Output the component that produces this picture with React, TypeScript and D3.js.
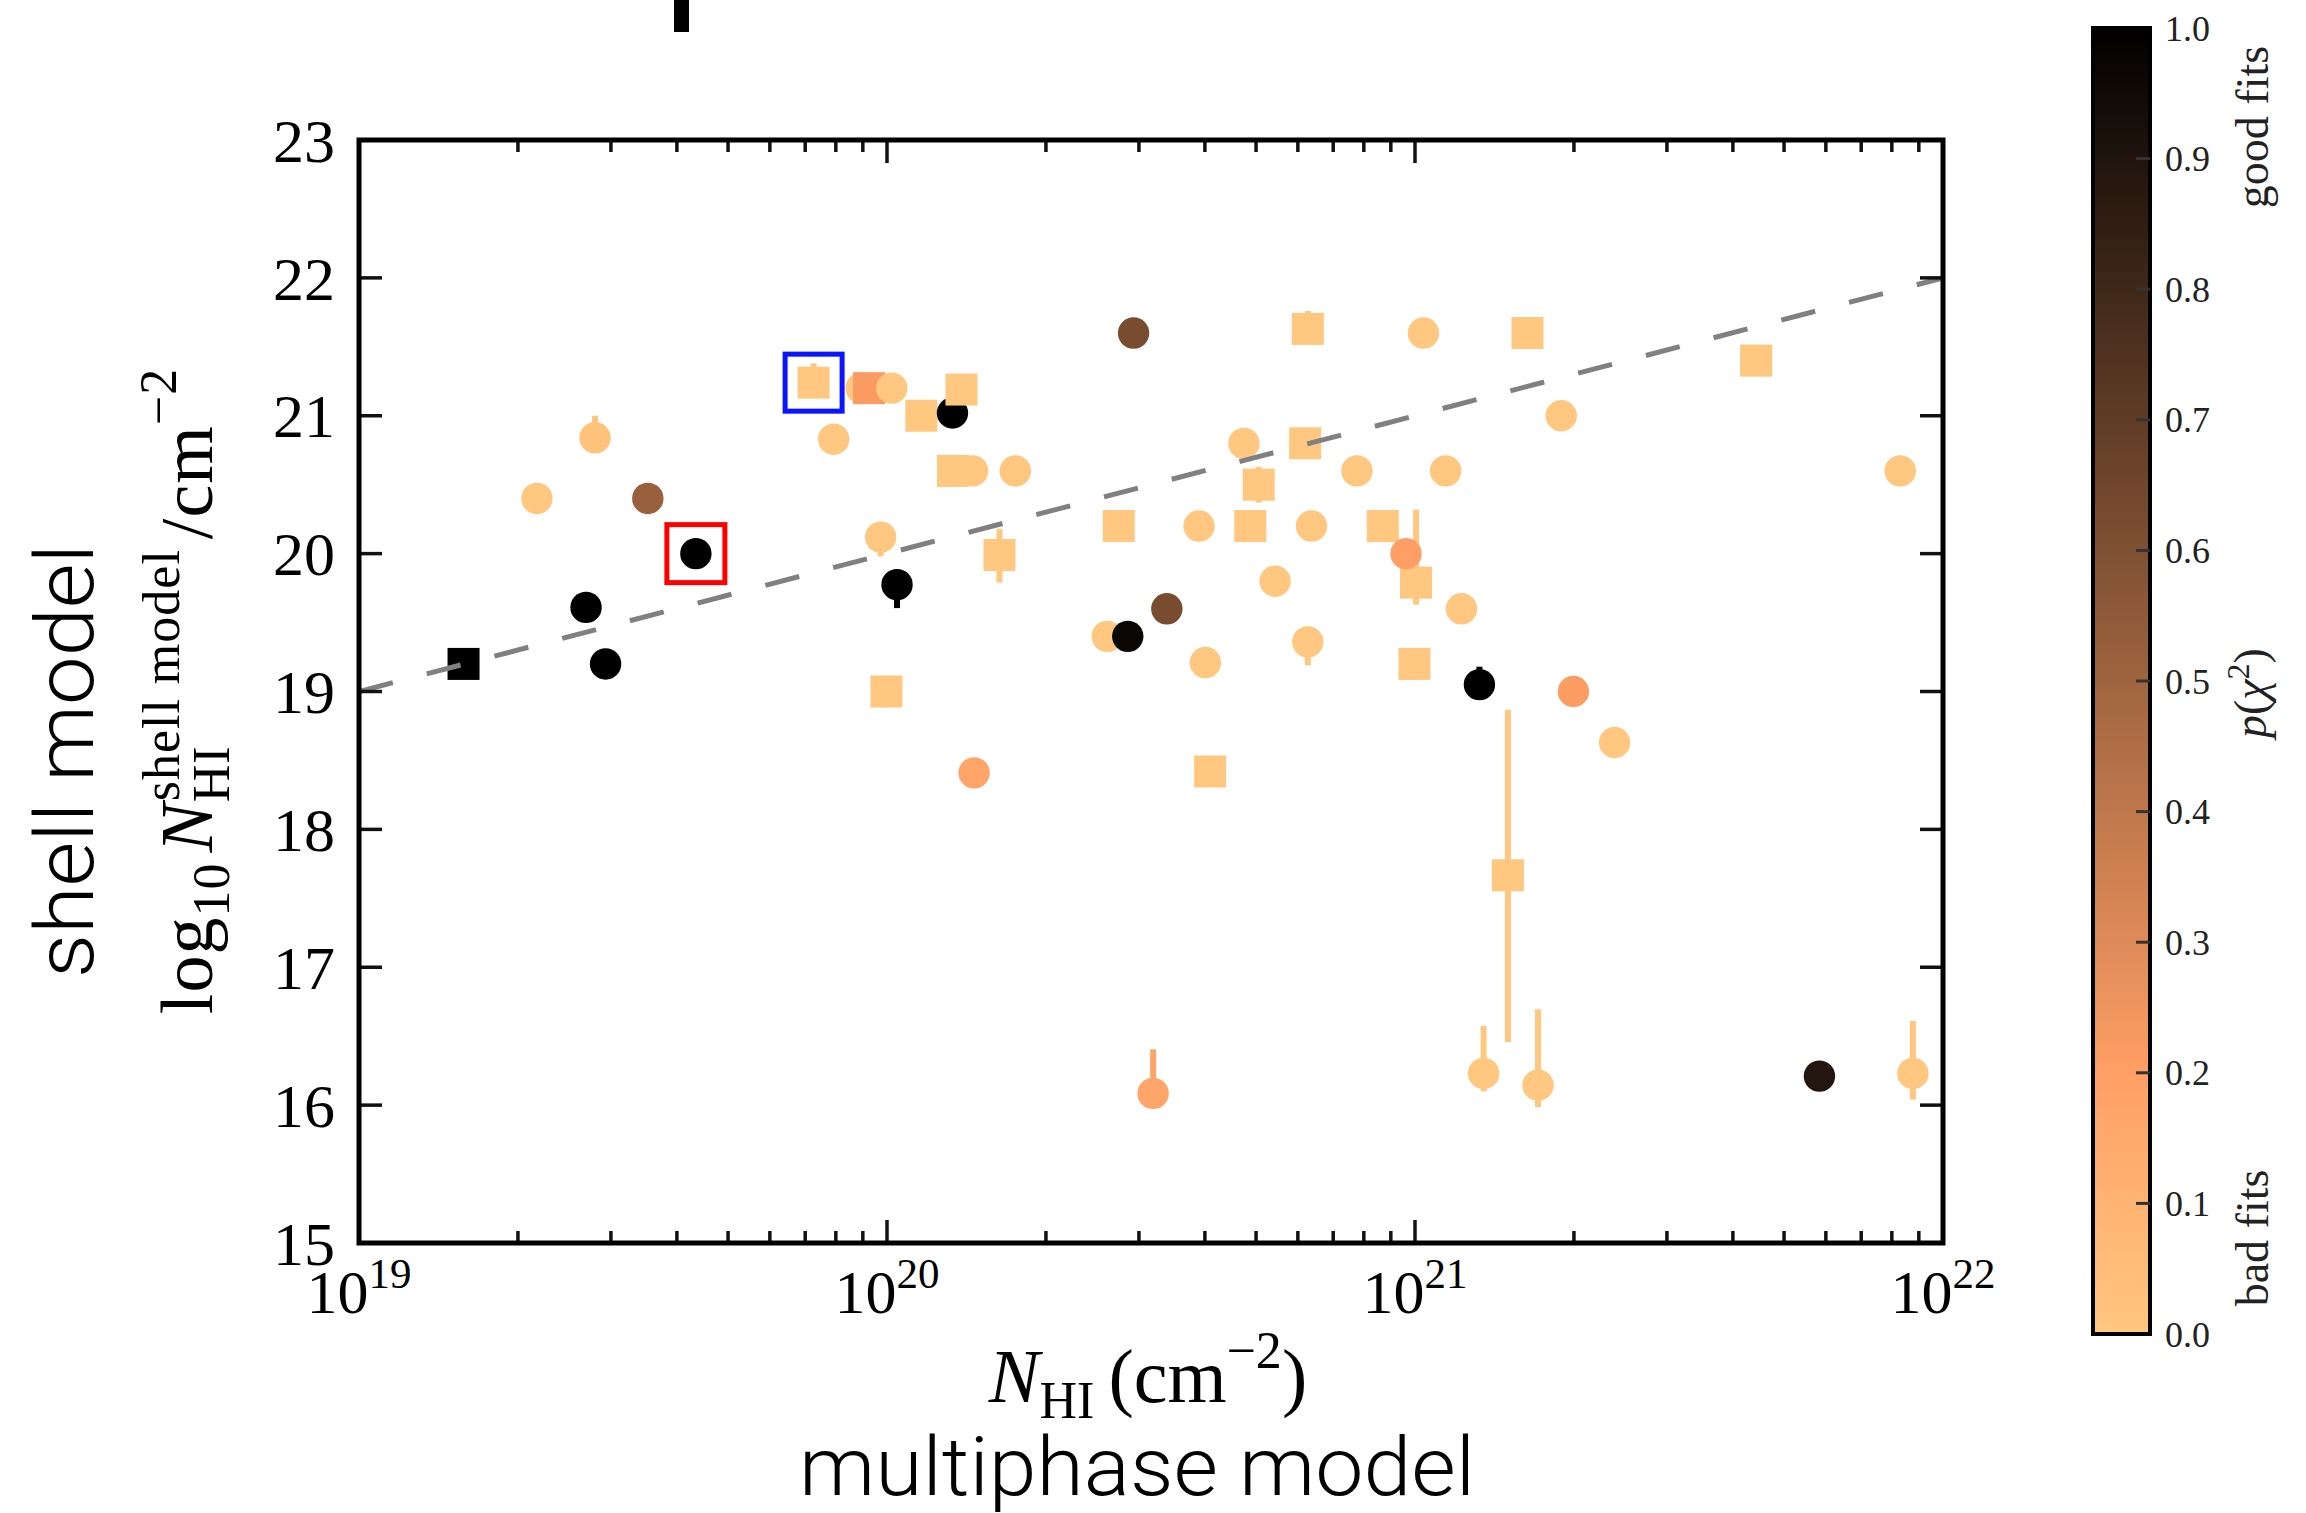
import React from "react";
import * as d3 from "d3";

// ---- data (log10 N_HI multiphase, log10 N_HI shell, p(chi2), marker, error bars) ----
const logNHI = [
  19.198, 19.337, 19.447, 19.547, 19.430, 19.467, 19.638, 19.861, 19.899, 19.951,
  19.966, 20.009, 20.065, 20.124, 20.141, 20.125, 20.162, 20.243, 19.988, 20.019,
  19.999, 20.213, 20.165, 20.467, 20.797, 21.016, 21.213, 21.646, 21.277, 20.439,
  20.591, 20.688, 20.804, 20.939, 20.676, 20.704, 20.792, 20.890, 21.058, 21.919,
  21.002, 20.983, 21.088, 20.735, 20.530, 20.417, 20.456, 20.603, 20.797, 20.999,
  21.122, 21.300, 21.378, 20.612, 21.176, 21.130, 21.233, 20.504, 21.766, 21.943,
];
const logShell = [
  19.20, 20.40, 20.84, 20.40, 19.61, 19.20, 20.00, 21.24, 20.83, 21.20,
  21.20, 21.20, 21.00, 21.02, 21.19, 20.60, 20.60, 20.60, 20.12, 19.775,
  19.00, 19.99, 18.41, 21.60, 21.63, 21.60, 21.60, 21.40, 21.00, 20.20,
  20.20, 20.20, 20.20, 20.20, 20.80, 20.50, 20.80, 20.60, 20.60, 20.60,
  19.79, 20.00, 19.60, 19.80, 19.60, 19.40, 19.40, 19.21, 19.36, 19.20,
  19.05, 19.00, 18.63, 18.42, 17.667, 16.23, 16.145, 16.085, 16.21, 16.23,
];
const pFit = [
  1.0, 0.0, 0.02, 0.52, 1.0, 1.0, 1.0, 0.0, 0.0, 0.0,
  0.22, 0.0, 0.0, 1.0, 0.0, 0.0, 0.0, 0.0, 0.0, 1.0,
  0.0, 0.0, 0.17, 0.62, 0.0, 0.0, 0.0, 0.0, 0.0, 0.0,
  0.0, 0.0, 0.0, 0.0, 0.0, 0.0, 0.0, 0.0, 0.0, 0.0,
  0.0, 0.2, 0.0, 0.0, 0.62, 0.0, 0.97, 0.0, 0.0, 0.0,
  1.0, 0.21, 0.0, 0.0, 0.0, 0.0, 0.0, 0.17, 0.89, 0.0,
];
const markerShape = [
  "s", "o", "o", "o", "o", "o", "o", "s", "o", "o",
  "s", "o", "s", "o", "s", "s", "o", "o", "o", "o",
  "s", "s", "o", "o", "s", "o", "s", "s", "o", "s",
  "o", "s", "o", "s", "o", "s", "s", "o", "o", "o",
  "s", "o", "o", "o", "o", "o", "o", "o", "o", "s",
  "o", "o", "o", "s", "s", "o", "o", "o", "o", "o",
];
const errPlus = [
  0, 0, 0.16, 0, 0, 0, 0, 0.14, 0.11, 0,
  0, 0, 0, 0.11, 0, 0, 0, 0, 0.09, 0,
  0, 0.19, 0, 0, 0.13, 0, 0, 0, 0, 0,
  0, 0, 0, 0, 0, 0.13, 0, 0, 0, 0,
  0.53, 0, 0, 0, 0, 0, 0, 0, 0, 0,
  0.13, 0, 0, 0, 1.2, 0.345, 0.55, 0.32, 0, 0.38,
];
const errMinus = [
  0, 0, 0, 0, 0, 0, 0, 0, 0, 0,
  0, 0, 0, 0, 0, 0, 0, 0, 0.14, 0.17,
  0, 0.2, 0, 0, 0, 0, 0, 0, 0, 0,
  0, 0, 0, 0, 0, 0.13, 0, 0, 0, 0,
  0.16, 0, 0, 0, 0, 0, 0, 0, 0.17, 0,
  0, 0, 0, 0, 1.21, 0.13, 0.16, 0, 0, 0.19,
];
const redBoxIndex = 6;
const blueBoxIndex = 7;

const yTicks = [15, 16, 17, 18, 19, 20, 21, 22, 23];
const xTickExp = [19, 20, 21, 22];
const xMinorMult = [2, 3, 4, 5, 6, 7, 8, 9];
const cbTicks = [0.0, 0.1, 0.2, 0.3, 0.4, 0.5, 0.6, 0.7, 0.8, 0.9, 1.0];
const oneToOneX = [19, 22];
const oneToOneY = [19, 22];

// ---- layout ----
const W = 2306;
const H = 1513;
const L = 359, R = 1943, T = 140, B = 1243;
const CB_L = 2093, CB_R = 2150, CB_T = 28, CB_B = 1334;
const SERIF = "'Liberation Serif', 'DejaVu Serif', serif";
const SANS = "Roboto, 'Liberation Sans', sans-serif";

function copperR(p: number): string {
  const x = 1 - p;
  const r = Math.round(Math.min(1, 1.25 * x) * 255);
  const g = Math.round(0.7812 * x * 255);
  const b = Math.round(0.4975 * x * 255);
  return `rgb(${r},${g},${b})`;
}

export default function App() {
  const xScale = d3.scaleLog().domain([1e19, 1e22]).range([L, R]);
  const yScale = d3.scaleLinear().domain([15, 23]).range([B, T]);
  const cbScale = d3.scaleLinear().domain([0, 1]).range([CB_B, CB_T]);

  const minorTicks: number[] = [];
  xTickExp.slice(0, 3).forEach((e) => xMinorMult.forEach((m) => minorTicks.push(m * Math.pow(10, e))));

  const line = d3
    .line<number>()
    .x((_, i) => xScale(Math.pow(10, oneToOneX[i])))
    .y((_, i) => yScale(oneToOneY[i]));

  const gradStops = d3.range(0, 1.0001, 0.05);
  const RAD = 15.7;
  const SQ = 32;

  const box = (i: number, color: string, side: number) => {
    const cx = xScale(Math.pow(10, logNHI[i]));
    const cy = yScale(logShell[i]);
    return (
      <rect x={cx - side / 2} y={cy - side / 2} width={side} height={side} fill="none" stroke={color} strokeWidth={5} />
    );
  };

  return (
    <svg width={W} height={H} style={{ position: "absolute", left: 0, top: 0, background: "#fff" }}>
      <rect x={0} y={0} width={W} height={H} fill="#fff" />
      {/* cut-off title fragment */}
      <rect x={674} y={0} width={15} height={32} fill="#000" />

      <defs>
        <linearGradient id="cbgrad" x1="0" y1="1" x2="0" y2="0">
          {gradStops.map((s, i) => (
            <stop key={i} offset={s} stopColor={copperR(s)} />
          ))}
        </linearGradient>
        <clipPath id="plotclip">
          <rect x={L} y={T} width={R - L} height={B - T} />
        </clipPath>
      </defs>

      {/* points */}
      <g clipPath="url(#plotclip)">
        {logNHI.map((lx, i) => {
          const cx = xScale(Math.pow(10, lx));
          const cy = yScale(logShell[i]);
          const c = copperR(pFit[i]);
          return (
            <g key={i}>
              {(errPlus[i] > 0 || errMinus[i] > 0) && (
                <line
                  x1={cx}
                  x2={cx}
                  y1={yScale(logShell[i] + errPlus[i])}
                  y2={yScale(logShell[i] - errMinus[i])}
                  stroke={c}
                  strokeWidth={6}
                />
              )}
              {markerShape[i] === "o" ? (
                <circle cx={cx} cy={cy} r={RAD} fill={c} />
              ) : (
                <rect x={cx - SQ / 2} y={cy - SQ / 2} width={SQ} height={SQ} fill={c} />
              )}
            </g>
          );
        })}
        <path d={line(oneToOneX) || ""} fill="none" stroke="#808080" strokeWidth={5} strokeDasharray="35,35" />
      </g>

      {box(redBoxIndex, "#ff0000", 58)}
      {box(blueBoxIndex, "#0a14ff", 57)}

      {/* ticks */}
      <g stroke="#111" strokeWidth={3.5}>
        {yTicks.map((v) => (
          <g key={v}>
            <line x1={L} x2={L + 23} y1={yScale(v)} y2={yScale(v)} />
            <line x1={R} x2={R - 23} y1={yScale(v)} y2={yScale(v)} />
          </g>
        ))}
        {xTickExp.map((e) => (
          <g key={e}>
            <line x1={xScale(Math.pow(10, e))} x2={xScale(Math.pow(10, e))} y1={B} y2={B - 23} />
            <line x1={xScale(Math.pow(10, e))} x2={xScale(Math.pow(10, e))} y1={T} y2={T + 23} />
          </g>
        ))}
        {minorTicks.map((v, i) => (
          <g key={i}>
            <line x1={xScale(v)} x2={xScale(v)} y1={B} y2={B - 12} />
            <line x1={xScale(v)} x2={xScale(v)} y1={T} y2={T + 12} />
          </g>
        ))}
      </g>
      <rect x={L} y={T} width={R - L} height={B - T} fill="none" stroke="#000" strokeWidth={5} />

      {/* tick labels */}
      <g fontFamily={SERIF} fontSize={62} fill="#000">
        {yTicks.map((v) => (
          <text key={v} x={335} y={yScale(v)} dy="0.35em" textAnchor="end">
            {v}
          </text>
        ))}
        {xTickExp.map((e) => (
          <text key={e} x={xScale(Math.pow(10, e))} y={1313} textAnchor="middle">
            10
            <tspan fontSize={43} dy={-25}>
              {e}
            </tspan>
          </text>
        ))}
      </g>

      {/* axis labels */}
      <text x={1148} y={1402} textAnchor="middle" fontFamily={SERIF} fontSize={76}>
        <tspan fontStyle="italic">N</tspan>
        <tspan fontSize={52} dy={16}>HI</tspan>
        <tspan dy={-16} dx={14}>(cm</tspan>
        <tspan fontSize={52} dy={-34}>−2</tspan>
        <tspan dy={34}>)</tspan>
      </text>
      <text transform="translate(212,691) rotate(-90)" textAnchor="middle" fontFamily={SERIF} fontSize={74} letterSpacing={1}>
        log
        <tspan fontSize={52} dy={17}>10</tspan>
        <tspan dy={-17} dx={10} fontStyle="italic">N</tspan>
        <tspan fontSize={52} dy={17}>HI</tspan>
        <tspan fontSize={52} dx={-56} dy={-50}>shell model</tspan>
        <tspan dy={33} dx={10}>/cm</tspan>
        <tspan fontSize={52} dy={-36}>−2</tspan>
      </text>

      <text x={1137} y={1495} textAnchor="middle" fontFamily={SANS} fontWeight={300} fontSize={82} textLength={676} lengthAdjust="spacingAndGlyphs">
        multiphase model
      </text>
      <text transform="translate(93,761) rotate(-90)" textAnchor="middle" fontFamily={SANS} fontWeight={300} fontSize={82} textLength={434} lengthAdjust="spacingAndGlyphs">
        shell model
      </text>

      {/* colorbar */}
      <rect x={CB_L} y={CB_T} width={CB_R - CB_L} height={CB_B - CB_T} fill="url(#cbgrad)" stroke="#000" strokeWidth={4} />
      <g stroke="#333" strokeWidth={3}>
        {cbTicks.slice(1, -1).map((v) => (
          <line key={v} x1={CB_R - 14} x2={CB_R} y1={cbScale(v)} y2={cbScale(v)} />
        ))}
      </g>
      <g fontFamily={SERIF} fontSize={36} fill="#222">
        {cbTicks.map((v) => (
          <text key={v} x={2165} y={cbScale(v)} dy="0.35em">
            {v.toFixed(1)}
          </text>
        ))}
      </g>
      <g fontFamily={SERIF} fontSize={46} fill="#222">
        <text transform="translate(2268,127) rotate(-90)" textAnchor="middle">good fits</text>
        <text transform="translate(2266,693) rotate(-90)" textAnchor="middle">
          <tspan fontStyle="italic">p</tspan>(<tspan fontStyle="italic">χ</tspan>
          <tspan fontSize={32} dy={-17}>2</tspan>
          <tspan dy={17}>)</tspan>
        </text>
        <text transform="translate(2268,1238) rotate(-90)" textAnchor="middle">bad fits</text>
      </g>
    </svg>
  );
}
